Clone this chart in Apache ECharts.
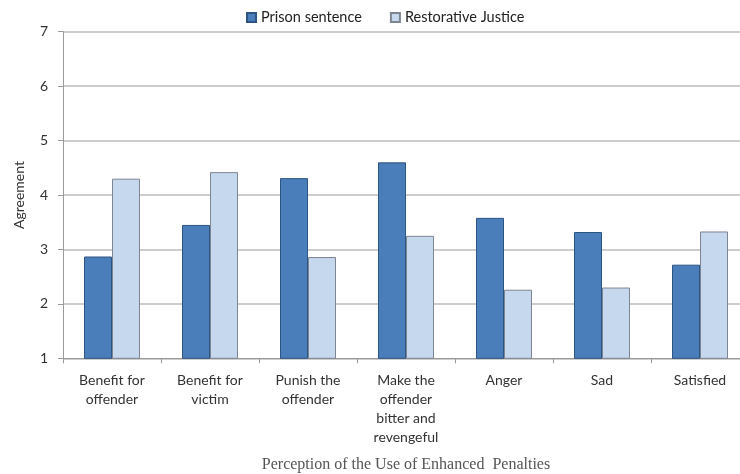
<!DOCTYPE html>
<html>
<head>
<meta charset="utf-8">
<script src="https://cdn.jsdelivr.net/npm/echarts@6/dist/echarts.min.js"></script>
<style>
  html, body { margin: 0; padding: 0; background: #ffffff; overflow: hidden; }
  #chart { width: 740px; height: 474px; }
</style>
</head>
<body>
<div id="chart"></div>
<script>
// Categories shown along the x axis
const categories = [
  'Benefit for\noffender',
  'Benefit for\nvictim',
  'Punish the\noffender',
  'Make the\noffender\nbitter and\nrevengeful',
  'Anger',
  'Sad',
  'Satisfied'
];

// Mean agreement scores per condition
const prisonSentence = [2.87, 3.45, 4.31, 4.60, 3.58, 3.32, 2.72];
const restorativeJustice = [4.30, 4.42, 2.86, 3.25, 2.26, 2.30, 3.33];

// Y axis range and ticks
const yMin = 1;
const yMax = 7;
const yStep = 1;

const chart = echarts.init(document.getElementById('chart'));

chart.setOption({
  backgroundColor: '#ffffff',
  animation: false,
  textStyle: { fontFamily: 'Lato, "Open Sans", sans-serif' },
  legend: {
    top: 5,
    left: 241,
    itemWidth: 9,
    itemHeight: 9,
    itemGap: 28,
    icon: 'rect',
    textStyle: { fontSize: 14.5, color: '#222', fontFamily: 'Lato, sans-serif' },
    data: ['Prison sentence', 'Restorative Justice']
  },
  grid: {
    left: 63,
    width: 686,
    top: 31.7,
    bottom: 115.7,
    containLabel: false,
    outerBoundsMode: 'none'
  },
  xAxis: {
    type: 'category',
    data: categories,
    name: 'Perception of the Use of Enhanced  Penalties',
    nameLocation: 'middle',
    nameGap: 98,
    nameTextStyle: {
      fontFamily: '"Liberation Serif", "DejaVu Serif", serif',
      fontSize: 16,
      color: '#555'
    },
    axisLine: { lineStyle: { color: '#9a9a9a', width: 1 } },
    axisTick: { show: true, alignWithLabel: false, length: 5, lineStyle: { color: '#9a9a9a' } },
    axisLabel: {
      interval: 0,
      color: '#333',
      fontSize: 14,
      lineHeight: 19,
      margin: 13,
      fontFamily: 'Lato, sans-serif'
    }
  },
  yAxis: {
    type: 'value',
    min: yMin,
    max: yMax,
    interval: yStep,
    name: 'Agreement',
    nameLocation: 'middle',
    nameGap: 37,
    nameRotate: 90,
    nameTextStyle: { fontSize: 14, color: '#333', fontFamily: 'Lato, sans-serif' },
    axisLine: { show: true, lineStyle: { color: '#9a9a9a', width: 1 } },
    axisTick: { show: true, length: 5, lineStyle: { color: '#9a9a9a' } },
    axisLabel: { color: '#333', fontSize: 14, margin: 15, fontFamily: 'Lato, sans-serif' },
    splitLine: { show: true, lineStyle: { color: '#bdbdbd', width: 1.5 } }
  },
  series: [
    {
      name: 'Prison sentence',
      type: 'bar',
      data: prisonSentence,
      barWidth: 28,
      barGap: '0%',
      itemStyle: { color: '#4a7ebb', borderColor: '#2e5483', borderWidth: 1 }
    },
    {
      name: 'Restorative Justice',
      type: 'bar',
      data: restorativeJustice,
      barWidth: 28,
      barGap: '0%',
      itemStyle: { color: '#c6d8ee', borderColor: '#7d8590', borderWidth: 1 }
    }
  ]
});
</script>
</body>
</html>
